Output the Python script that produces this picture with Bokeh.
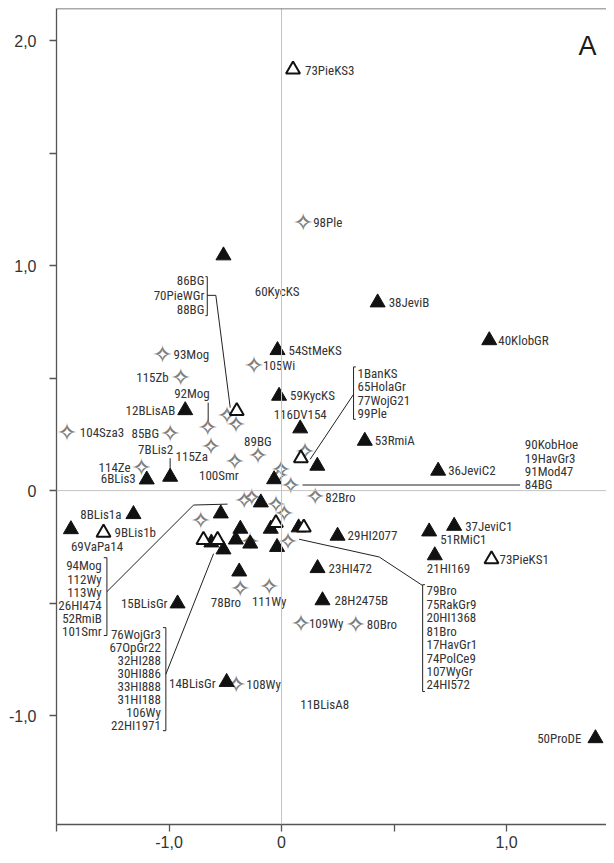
from bokeh.plotting import figure
from bokeh.models import Span, FixedTicker, ColumnDataSource
from bokeh.core.properties import value
from bokeh.embed import file_html
from bokeh.resources import INLINE

# ---------------- data ----------------
filled_x = [-0.258, -0.018, 0.427, 0.923, -0.011, -0.428, 0.083, 0.370, 0.159, 0.696,
            -0.495, -0.599, -0.033, -0.658, -0.936, -0.270, -0.092, -0.048, 0.076, -0.183,
            -0.312, -0.258, -0.203, -0.139, -0.020, -0.188, -0.462, 0.249, 0.656, 0.767,
            0.681, 0.160, 0.182, -0.244, 1.395]
filled_y = [1.045, 0.624, 0.836, 0.668, 0.421, 0.357, 0.276, 0.221, 0.110, 0.088,
            0.061, 0.049, 0.050, -0.105, -0.172, -0.102, -0.053, -0.170, -0.164, -0.170,
            -0.231, -0.262, -0.218, -0.236, -0.251, -0.360, -0.502, -0.201, -0.182, -0.157,
            -0.288, -0.345, -0.488, -0.851, -1.101]
filled_lab = ["", "54StMeKS", "38JeviB", "40KlobGR", "59KycKS", "12BLisAB", "116DV154", "53RmiA", "", "36JeviC2",
              "7BLis2", "6BLis3", "", "8BLis1a", "69VaPa14", "", "", "", "", "",
              "", "", "", "", "", "", "15BLisGr", "29HI2077", "51RMiC1", "37JeviC1",
              "21HI169", "23HI472", "28H2475B", "14BLisGr", "50ProDE"]

open_x = [0.051, -0.199, 0.086, -0.791, -0.025, 0.099, -0.347, -0.284, 0.933]
open_y = [1.872, 0.354, 0.144, -0.187, -0.144, -0.164, -0.219, -0.219, -0.305]
open_lab = ["73PieKS3", "", "", "9BLis1b", "", "", "", "", "73PieKS1"]

star_x = [0.096, -0.529, -0.122, -0.448, -0.243, -0.202, -0.328, -0.954, -0.495, -0.314,
          -0.105, -0.208, -0.622, 0.104, -0.003, -0.011, 0.041, 0.150, -0.166, -0.133,
          -0.025, 0.012, -0.359, -0.140, 0.029, -0.184, -0.055, 0.086, 0.330, -0.201]
star_y = [1.190, 0.603, 0.554, 0.502, 0.332, 0.293, 0.281, 0.258, 0.253, 0.194,
          0.154, 0.130, 0.102, 0.173, 0.092, 0.068, 0.025, -0.024, -0.046, -0.031,
          -0.061, -0.102, -0.132, -0.224, -0.224, -0.434, -0.428, -0.590, -0.597, -0.862]
star_lab = ["98Ple", "93Mog", "105Wi", "115Zb", "", "", "92Mog", "104Sza3", "85BG", "115Za",
            "89BG", "100Smr", "114Ze", "", "", "", "", "82Bro", "", "",
            "", "", "", "", "", "78Bro", "111Wy", "109Wy", "80Bro", "108Wy"]

# grouped label lists (bracketed)
group1_names = ["86BG", "70PieWGr", "88BG"]
group2_names = ["1BanKS", "65HolaGr", "77WojG21", "99Ple"]
group3_names = ["90KobHoe", "19HavGr3", "91Mod47", "84BG"]
group4_names = ["94Mog", "112Wy", "113Wy", "26HI474", "52RmiB", "101Smr"]
group5_names = ["76WojGr3", "67OpGr22", "32HI288", "30HI886", "33HI888", "31HI188", "106Wy", "22HI1971"]
group6_names = ["79Bro", "75RakGr9", "20HI1368", "81Bro", "17HavGr1", "74PolCe9", "107WyGr", "24HI572"]
free_names = ["60KycKS", "11BLisA8"]

x_ticks = [-1.0, -0.5, 0.0, 0.5, 1.0, 1.5]
x_tick_labels = ["", "-1,0", "0", "", "1,0", ""]
y_ticks = [-1.5, -1.0, -0.5, 0.0, 0.5, 1.0, 1.5, 2.0]
y_tick_labels = ["", "-1,0", "", "0", "", "1,0", "", "2,0"]

# ---------------- layout / styling ----------------
# label offsets in screen pixels (dx, dy-down, align)
LABEL_LAYOUT = {
    "73PieKS3": (12, 1, "left"), "98Ple": (10, 0, "left"), "54StMeKS": (11, 0, "left"),
    "38JeviB": (11, 0, "left"), "40KlobGR": (9, 0, "left"), "59KycKS": (11, 0, "left"),
    "12BLisAB": (-10, 0, "right"), "116DV154": (0, -14, "center"), "53RmiA": (10, 0, "left"),
    "36JeviC2": (10, 0, "left"), "7BLis2": (3, -27, "right"), "6BLis3": (-11, -1, "right"),
    "8BLis1a": (-12, 0, "right"), "9BLis1b": (11, 0, "left"), "69VaPa14": (0, 17, "left"),
    "15BLisGr": (-10, 0, "right"), "29HI2077": (10, 0, "left"), "51RMiC1": (11, 8, "left"),
    "37JeviC1": (11, 1, "left"), "21HI169": (-8, 13, "left"), "73PieKS1": (8, 0, "left"),
    "23HI472": (11, 0, "left"), "28H2475B": (12, 0, "left"), "14BLisGr": (-11, 1, "right"),
    "50ProDE": (-14, 0, "right"), "93Mog": (11, 0, "left"), "105Wi": (9, 0, "left"),
    "115Zb": (-12, 0, "right"), "92Mog": (2, -34, "right"), "104Sza3": (13, 0, "left"),
    "85BG": (-11, 0, "right"), "115Za": (-3, 10, "right"), "89BG": (0, -14, "center"),
    "100Smr": (4, 14, "right"), "114Ze": (-11, 0, "right"), "82Bro": (10, 1, "left"),
    "78Bro": (1, 14, "right"), "111Wy": (0, 15, "center"), "109Wy": (8, 0, "left"),
    "80Bro": (11, 0, "left"), "108Wy": (10, 0, "left"),
}
# group label anchor: (x, first y, step, align) in data units
GROUPS = [
    (group1_names, -0.343, 0.933, 0.0635, "right"),
    (group2_names, 0.338, 0.521, 0.0597, "left"),
    (group3_names, 1.081, 0.203, 0.0593, "left"),
    (group4_names, -0.799, -0.335, 0.0578, "right"),
    (group5_names, -0.536, -0.639, 0.0578, "right"),
    (group6_names, 0.644, -0.446, 0.0596, "left"),
]
FREE_POS = [(-0.119, 0.884), (0.083, -0.949)]
LEADERS = [
    ([-0.338, -0.330, -0.330, -0.338], [0.951, 0.951, 0.778, 0.778]),
    ([-0.330, -0.292, -0.228], [0.868, 0.868, 0.369]),
    ([0.330, 0.320, 0.320, 0.330], [0.550, 0.550, 0.317, 0.317]),
    ([0.320, 0.127], [0.428, 0.139]),
    ([0.093, 1.060], [0.025, 0.025]),
    ([-0.790, -0.776, -0.776, -0.790], [-0.298, -0.298, -0.644, -0.644]),
    ([-0.776, -0.391, -0.240], [-0.449, -0.064, -0.060]),
    ([-0.527, -0.514, -0.514, -0.527], [-0.609, -0.609, -1.067, -1.067]),
    ([-0.514, -0.302], [-0.816, -0.280]),
    ([0.637, 0.627, 0.627, 0.637], [-0.418, -0.418, -0.893, -0.893]),
    ([0.078, 0.434, 0.627], [-0.216, -0.295, -0.422]),
    ([-0.495, -0.495], [0.144, 0.084]),
    ([-0.326, -0.326], [0.391, 0.307]),
]

LAB_FONT = value("Roboto Condensed")
TICK_FONT = "Liberation Sans"
TXT = "#333333"
AX = "#555555"
Y_TOP = 2.143

p = figure(frame_width=550, frame_height=816, x_range=(-1.0, 1.444), y_range=(-1.484, Y_TOP),
           output_backend="svg", toolbar_location=None,
           min_border_left=56, min_border_right=0, min_border_top=8, min_border_bottom=0)
p.grid.visible = False
p.outline_line_color = None
p.background_fill_color = "white"
p.border_fill_color = "white"

for ax, ticks, labs in [(p.xaxis[0], x_ticks, x_tick_labels), (p.yaxis[0], y_ticks, y_tick_labels)]:
    ax.ticker = FixedTicker(ticks=ticks)
    ax.major_label_overrides = {t: l for t, l in zip(ticks, labs)}
    ax.minor_tick_line_color = None
    ax.major_tick_in = 0
    ax.major_tick_out = 7
    ax.axis_line_color = AX
    ax.axis_line_width = 1.3
    ax.major_tick_line_color = AX
    ax.major_tick_line_width = 1.3
    ax.major_label_text_font = TICK_FONT
    ax.major_label_text_font_size = "16px"
    ax.major_label_text_color = TXT
p.xaxis.major_label_standoff = 4
p.yaxis.major_label_standoff = 13

p.add_layout(Span(location=0, dimension="height", line_color="#c4c4c4", line_width=1))
p.add_layout(Span(location=0, dimension="width", line_color="#c4c4c4", line_width=1))
p.add_layout(Span(location=Y_TOP, dimension="width", line_color=AX, line_width=1.3))

# leaders and brackets
p.multi_line(xs=[l[0] for l in LEADERS], ys=[l[1] for l in LEADERS], line_color="#222222", line_width=1)

# stars (4-point): grey star with a white core
star_src = ColumnDataSource(dict(x=star_x, y=star_y, s=["\u2726"] * len(star_x)))
p.text(x="x", y="y", text="s", source=star_src, text_font=value("DejaVu Sans"), text_font_size="25px",
       text_color="#7d7d7d", text_align="center", text_baseline="middle")
p.text(x="x", y="y", text="s", source=star_src, text_font=value("DejaVu Sans"), text_font_size="13px",
       text_color="white", text_align="center", text_baseline="middle")

# triangles
p.scatter(filled_x, filled_y, marker="triangle", size=15, fill_color="#111111", line_color="#111111")
p.scatter(open_x, open_y, marker="triangle", size=14, fill_color="white", line_color="#111111", line_width=2)

# point labels
lab = {a: dict(x=[], y=[], t=[], dx=[], dy=[]) for a in ("left", "right", "center")}
for xs, ys, ls in [(filled_x, filled_y, filled_lab), (open_x, open_y, open_lab), (star_x, star_y, star_lab)]:
    for x, y, t in zip(xs, ys, ls):
        if t:
            dx, dy, al = LABEL_LAYOUT[t]
            d = lab[al]
            d["x"].append(x); d["y"].append(y); d["t"].append(t); d["dx"].append(dx); d["dy"].append(dy)
for names, gx, gy, step, al in GROUPS:
    for i, t in enumerate(names):
        d = lab[al]
        d["x"].append(gx); d["y"].append(gy - i * step); d["t"].append(t); d["dx"].append(0); d["dy"].append(0)
for t, (fx, fy) in zip(free_names, FREE_POS):
    d = lab["left"]
    d["x"].append(fx); d["y"].append(fy); d["t"].append(t); d["dx"].append(0); d["dy"].append(0)

for al, d in lab.items():
    p.text(x="x", y="y", text="t", x_offset="dx", y_offset="dy", source=ColumnDataSource(d),
           text_align=al, text_baseline="middle", text_font=LAB_FONT, text_font_size="13px",
           text_color=TXT)

p.text(x=[1.36], y=[1.975], text=["A"], text_font=value("Liberation Sans"), text_font_size="27px",
       text_color="#1a1a1a", text_align="center", text_baseline="middle")

open("out.html", "w").write(file_html(p, INLINE))
